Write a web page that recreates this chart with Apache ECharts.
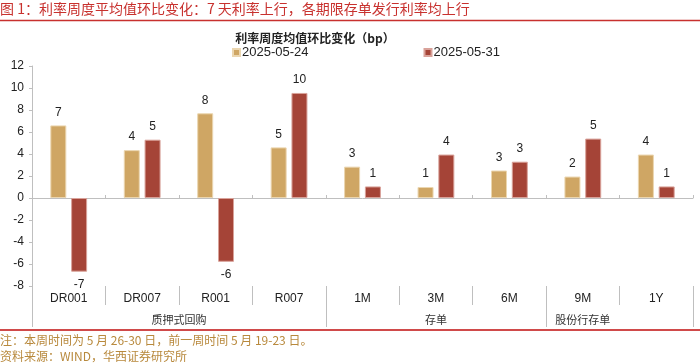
<!DOCTYPE html>
<html><head><meta charset="utf-8">
<script src="https://cdn.jsdelivr.net/npm/echarts@6/dist/echarts.min.js"></script>
<style>html,body{margin:0;padding:0;background:#fff}#c{width:700px;height:363px}</style>
</head><body><div id="c"></div>
<script>
const categories = ['DR001','DR007','R001','R007','1M','3M','6M','9M','1Y'];
const groupNames = ['质押式回购','存单','股份行存单'];
const groupCenters = [2, 5.5, 7.5];
const groupBounds = [0, 4, 7, 9];
const seriesNames = ['2025-05-24','2025-05-31'];
const week1 = [6.6, 4.35, 7.7, 4.6, 2.85, 1.0, 2.5, 1.95, 3.95];
const week2 = [-6.7, 5.3, -5.8, 9.55, 1.05, 3.95, 3.3, 5.4, 1.05];
const yTicks = [-8,-6,-4,-2,0,2,4,6,8,10,12];

const colors = ['#CFA664','#A54437'];
const borders = ['#EBD6B0','#D9A29A'];
const font = '"Liberation Sans", Arial, sans-serif';
const cjk = '"Noto Sans CJK SC", sans-serif';

function mk(arr){
  return arr.map(v => ({value: v, label: {position: v < 0 ? 'bottom' : 'top'}}));
}

const chart = echarts.init(document.getElementById('c'), null, {renderer:'canvas'});
chart.setOption({
  animation: false,
  backgroundColor: '#fff',
  title: [
    {text: '图 1：利率周度平均值环比变化：7 天利率上行，各期限存单发行利率均上行', left: 0, top: 1, padding: 0,
     textStyle: {color: '#C8312E', fontSize: 14, fontWeight: 'normal', fontFamily: cjk, lineHeight: 16}},
    {text: '利率周度均值环比变化（bp）', left: 315, textAlign: 'center', top: 31, padding: 0,
     textStyle: {color: '#222', fontSize: 12, fontWeight: 'bold', fontFamily: cjk, lineHeight: 14}},
    {text: '注：本周时间为 5 月 26-30 日，前一周时间 5 月 19-23 日。', left: 0, top: 334, padding: 0,
     textStyle: {color: '#B8893C', fontSize: 12, fontWeight: 'normal', fontFamily: cjk, lineHeight: 13}},
    {text: '资料来源：WIND，华西证券研究所', left: 0, top: 350, padding: 0,
     textStyle: {color: '#B8893C', fontSize: 12, fontWeight: 'normal', fontFamily: cjk, lineHeight: 13}}
  ],
  legend: {
    top: 46, left: 232, padding: 0, itemGap: 115, itemWidth: 7, itemHeight: 7, icon: 'rect',
    textStyle: {fontFamily: font, fontSize: 13, color: '#222', padding: [0,0,0,-3]},
    data: seriesNames
  },
  grid: {left: 32, right: 7, top: 66, bottom: 77, containLabel: false},
  xAxis: [
    {type: 'category', data: categories, position: 'bottom',
     axisLine: {onZero: true, lineStyle: {color: '#BFBFBF', width: 1}},
     axisTick: {show: true, inside: true, length: 3, alignWithLabel: false, lineStyle: {color: '#BFBFBF'}},
     axisLabel: {show: false}},
    {type: 'category', data: categories, position: 'bottom', offset: 0,
     axisLine: {show: false, onZero: false},
     axisTick: {show: true, length: 19, interval: 0, lineStyle: {color: '#BFBFBF'}},
     axisLabel: {show: true, interval: 0, margin: 7, fontFamily: font, fontSize: 12, color: '#222'}},
    {type: 'value', min: 0, max: 9, position: 'bottom', offset: 0,
     axisLine: {show: false, onZero: false},
     splitLine: {show: false},
     axisTick: {show: true, length: 41, customValues: groupBounds, lineStyle: {color: '#BFBFBF'}},
     axisLabel: {show: true, margin: 28, customValues: groupCenters, fontFamily: cjk, fontSize: 11, color: '#333',
       formatter: v => { const i = groupCenters.indexOf(v); return i >= 0 ? groupNames[i] : ''; }}}
  ],
  yAxis: {
    type: 'value', min: -8, max: 12, interval: 2,
    axisLine: {show: true, lineStyle: {color: '#BFBFBF'}},
    axisTick: {show: true, length: 3, lineStyle: {color: '#BFBFBF'}},
    splitLine: {show: false},
    axisLabel: {fontFamily: font, fontSize: 12, color: '#222', margin: 8,
      customValues: yTicks}
  },
  series: [
    {name: seriesNames[0], type: 'bar', xAxisIndex: 0, data: mk(week1), barWidth: 16, barGap: '30%',
     itemStyle: {color: colors[0], borderColor: borders[0], borderWidth: 1},
     label: {show: true, distance: 7, fontFamily: font, fontSize: 12, color: '#222',
       formatter: p => Math.round(p.value)}},
    {name: seriesNames[1], type: 'bar', xAxisIndex: 0, data: mk(week2), barWidth: 16, barGap: '30%',
     itemStyle: {color: colors[1], borderColor: borders[1], borderWidth: 1},
     label: {show: true, distance: 7, fontFamily: font, fontSize: 12, color: '#222',
       formatter: p => Math.round(p.value)}}
  ],
  graphic: [
    {type: 'line', shape: {x1: 0, y1: 20.5, x2: 700, y2: 20.5}, style: {stroke: '#C8312E', lineWidth: 1.5}},
    {type: 'line', shape: {x1: 0, y1: 330, x2: 700, y2: 330}, style: {stroke: '#D04A4A', lineWidth: 2}}
  ]
});
</script></body></html>
